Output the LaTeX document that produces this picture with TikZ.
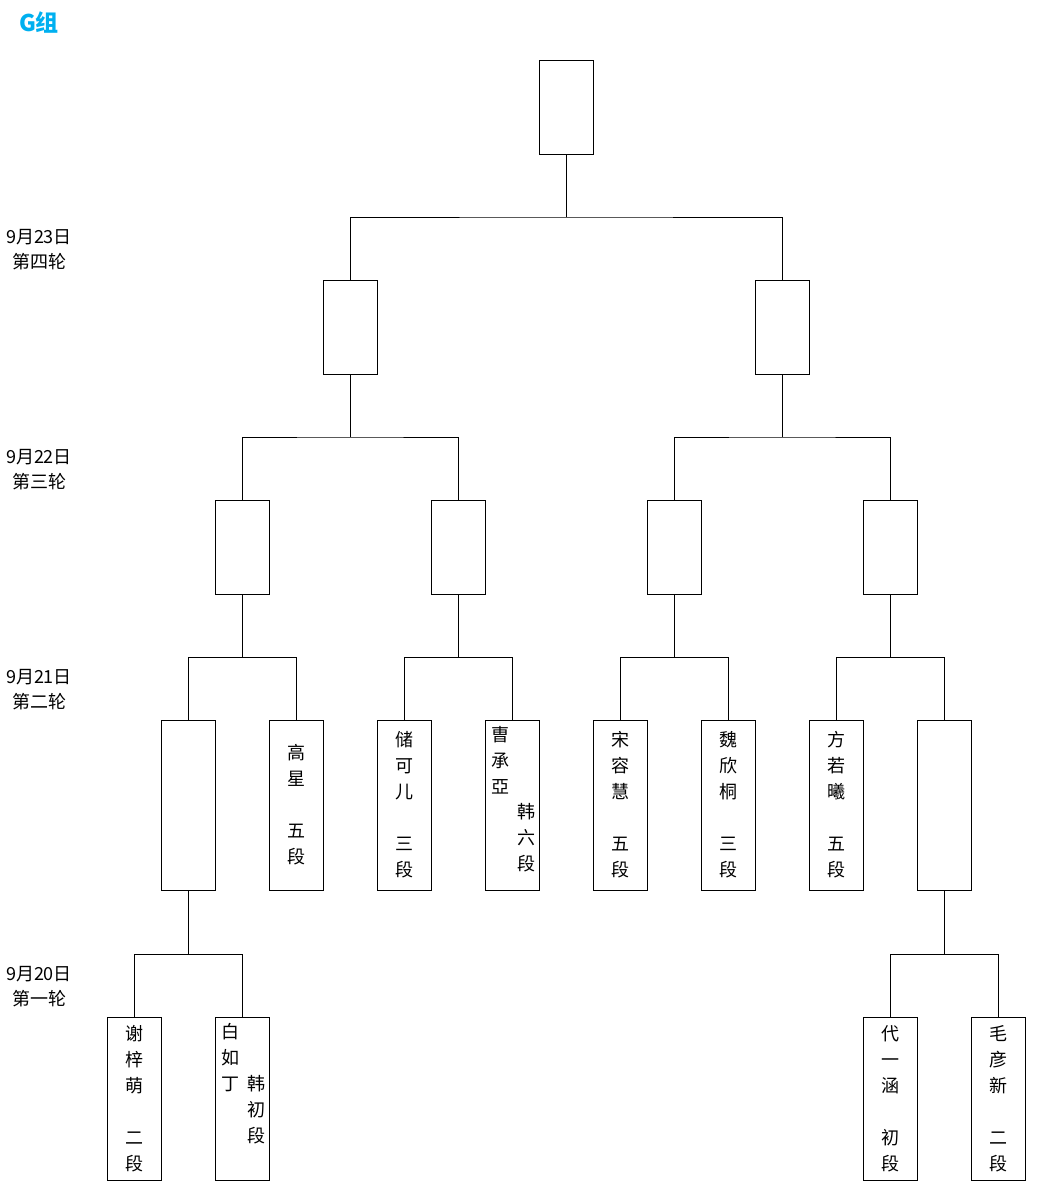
\documentclass[tikz,border=0pt]{standalone}
\usepackage{fontspec}
\setmainfont{Noto Sans CJK SC}
\definecolor{groupblue}{RGB}{0,176,240}
\tikzset{
  box/.style={draw, line width=1pt, minimum width=54pt, minimum height=94pt,
              inner sep=0pt, align=center, font=\fontsize{18}{26}\selectfont},
  tallbox/.style={box, minimum height=170pt},
  lowbox/.style={box, minimum height=163pt},
  wire/.style={line width=1pt},
  roundlabel/.style={align=center, inner sep=0pt, font=\fontsize{18}{25}\selectfont},
  names/.style={align=center, inner sep=0pt, font=\fontsize{18}{26}\selectfont}
}
\begin{document}
\begin{tikzpicture}[x=1pt, y=-1pt]
  \useasboundingbox (0,0) rectangle (1039,1187);
  \node[font=\bfseries\fontsize{23}{23}\selectfont, text=groupblue] (group) at (39,22) {G组};
  % round labels
  \node[roundlabel] (day4) at (39,250) {9月23日\\第四轮};
  \node[roundlabel] (day3) at (39,470) {9月22日\\第三轮};
  \node[roundlabel] (day2) at (39,690) {9月21日\\第二轮};
  \node[roundlabel] (day1) at (39,987) {9月20日\\第一轮};
  % winner
  \node[box] (final) at (566,107) {};
  \node[box] (semi1) at (350,327) {};
  \node[box] (semi2) at (782,327) {};
  \node[box] (qf1) at (242,547) {};
  \node[box] (qf2) at (458,547) {};
  \node[box] (qf3) at (674,547) {};
  \node[box] (qf4) at (890,547) {};
  % second round
  \node[tallbox] (r2a) at (188,805) {};
  \node[tallbox] (r2b) at (296,805) {高\\星\\[26pt]五\\段};
  \node[tallbox] (r2c) at (404,805) {储\\可\\儿\\[26pt]三\\段};
  \node[tallbox] (r2d) at (512,805) {};
  \node[tallbox] (r2e) at (620,805) {宋\\容\\慧\\[26pt]五\\段};
  \node[tallbox] (r2f) at (728,805) {魏\\欣\\桐\\[26pt]三\\段};
  \node[tallbox] (r2g) at (836,805) {方\\若\\曦\\[26pt]五\\段};
  \node[tallbox] (r2h) at (944,805) {};
  \node[names] (jo) at (500,760) {曺\\承\\亞};
  \node[names] (jokr) at (526,838) {韩\\六\\段};
  % first round
  \node[lowbox] (r1a) at (134,1099) {谢\\梓\\萌\\[26pt]二\\段};
  \node[lowbox] (r1b) at (242,1099) {};
  \node[lowbox] (r1c) at (890,1099) {代\\一\\涵\\[26pt]初\\段};
  \node[lowbox] (r1d) at (998,1099) {毛\\彦\\新\\[26pt]二\\段};
  \node[names] (baek) at (230,1058) {白\\如\\丁};
  \node[names] (baekkr) at (256,1110) {韩\\初\\段};
  % joints
  \coordinate (j5) at (566,217);
  \coordinate (j4a) at (350,437);
  \coordinate (j4b) at (782,437);
  \coordinate (j3a) at (242,657);
  \coordinate (j3b) at (458,657);
  \coordinate (j3c) at (674,657);
  \coordinate (j3d) at (890,657);
  \coordinate (j2a) at (188,954);
  \coordinate (j2h) at (944,954);
  \draw[wire] (final.south) -- (j5);
  \draw[wire] (semi1.north) |- (j5) -| (semi2.north);
  \draw[wire] (semi1.south) -- (j4a);
  \draw[wire] (semi2.south) -- (j4b);
  \draw[wire] (qf1.north) |- (j4a) -| (qf2.north);
  \draw[wire] (qf3.north) |- (j4b) -| (qf4.north);
  \draw[wire] (qf1.south) -- (j3a);
  \draw[wire] (qf2.south) -- (j3b);
  \draw[wire] (qf3.south) -- (j3c);
  \draw[wire] (qf4.south) -- (j3d);
  \draw[wire] (r2a.north) |- (j3a) -| (r2b.north);
  \draw[wire] (r2c.north) |- (j3b) -| (r2d.north);
  \draw[wire] (r2e.north) |- (j3c) -| (r2f.north);
  \draw[wire] (r2g.north) |- (j3d) -| (r2h.north);
  \draw[wire] (r2a.south) -- (j2a);
  \draw[wire] (r2h.south) -- (j2h);
  \draw[wire] (r1a.north) |- (j2a) -| (r1b.north);
  \draw[wire] (r1c.north) |- (j2h) -| (r1d.north);
\end{tikzpicture}
\end{document}
